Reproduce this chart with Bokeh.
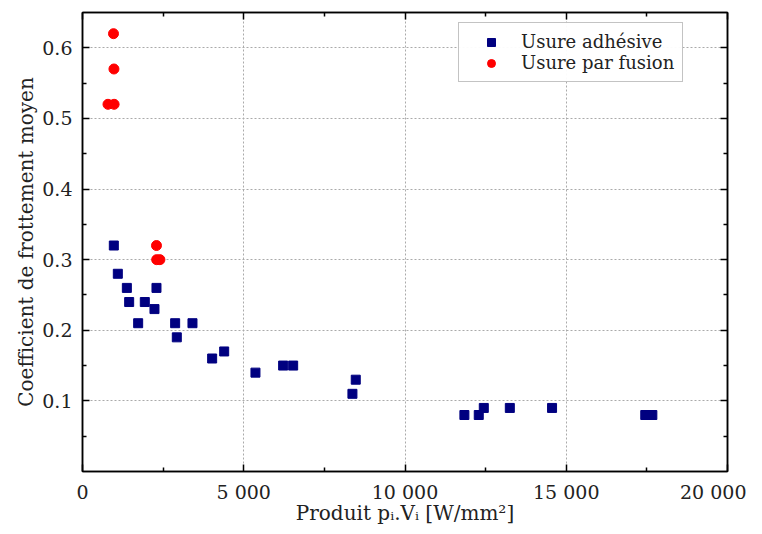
from bokeh.plotting import figure
from bokeh.models import FixedTicker, LinearAxis, Range1d, Legend, LegendItem
from bokeh.embed import file_html
from bokeh.resources import INLINE

# Data
adh_x = [971, 1095, 1375, 1447, 1932, 2294, 2232, 1726, 2873, 3410, 2924, 4020, 4393,
         5363, 6221, 6532, 8473, 8370, 11842, 12287, 12443, 13250, 14560, 17450, 17670]
adh_y = [0.32, 0.28, 0.26, 0.24, 0.24, 0.26, 0.23, 0.21, 0.21, 0.21, 0.19, 0.16, 0.17,
         0.14, 0.15, 0.15, 0.13, 0.11, 0.08, 0.08, 0.09, 0.09, 0.09, 0.08, 0.08]
fus_x = [961, 975, 790, 980, 2294, 2300, 2400]
fus_y = [0.62, 0.57, 0.52, 0.52, 0.32, 0.30, 0.30]

x_ticks = [0, 5000, 10000, 15000, 20000]
x_labels = ["0", "5 000", "10 000", "15 000", "20 000"]
x_minor = [2500, 7500, 12500, 17500]
y_ticks = [0.1, 0.2, 0.3, 0.4, 0.5, 0.6]
y_labels = ["0.1", "0.2", "0.3", "0.4", "0.5", "0.6"]
y_minor = [0.05, 0.15, 0.25, 0.35, 0.45, 0.55]

FONT = "DejaVu Serif"

p = figure(width=746, height=530, output_backend="svg", toolbar_location=None,
           x_range=Range1d(0, 20000), y_range=Range1d(0, 0.65),
           min_border_left=82, min_border_top=12, min_border_right=19, min_border_bottom=59)
p.outline_line_color = "black"
p.outline_line_width = 1.5

r1 = p.scatter(adh_x, adh_y, marker="square", size=9, fill_color="#000080", line_color="#000080")
r2 = p.scatter(fus_x, fus_y, marker="circle", size=10, fill_color="#ff0000", line_color="#ff0000")

xt = FixedTicker(ticks=x_ticks, minor_ticks=x_minor)
yt = FixedTicker(ticks=y_ticks, minor_ticks=y_minor)

def style(ax, labels=True):
    ax.axis_line_color = "black"
    ax.axis_line_width = 1.5
    ax.major_tick_in = 7
    ax.major_tick_out = 0
    ax.minor_tick_in = 4
    ax.minor_tick_out = 0
    ax.major_tick_line_width = 1.5
    ax.minor_tick_line_width = 1.5
    ax.major_label_text_font = FONT
    ax.major_label_text_font_size = "19px"
    ax.major_label_text_color = "#222222"
    ax.axis_label_text_font = FONT
    ax.axis_label_text_font_size = "20px"
    ax.axis_label_text_font_style = "normal"
    ax.axis_label_text_color = "#222222"
    if not labels:
        ax.major_label_text_font_size = "0px"
        ax.major_label_text_alpha = 0

p.xaxis.ticker = xt
p.yaxis.ticker = yt
p.xaxis.major_label_overrides = dict(zip(x_ticks, x_labels))
p.yaxis.major_label_overrides = dict(zip(y_ticks, y_labels))
p.xaxis.axis_label = "Produit pᵢ.Vᵢ [W/mm²]"
p.yaxis.axis_label = "Coefficient de frottement moyen"
style(p.xaxis[0])
style(p.yaxis[0])
p.xaxis.major_label_standoff = 9
p.xaxis.axis_label_standoff = -5
p.yaxis.major_label_standoff = 10
p.yaxis.axis_label_standoff = 1

top = LinearAxis(ticker=FixedTicker(ticks=x_ticks, minor_ticks=x_minor))
right = LinearAxis(ticker=FixedTicker(ticks=y_ticks, minor_ticks=y_minor))
for ax in (top, right):
    style(ax, labels=False)
    ax.major_label_standoff = 0
p.add_layout(top, "above")
p.add_layout(right, "right")

p.xgrid.ticker = FixedTicker(ticks=x_ticks)
p.ygrid.ticker = FixedTicker(ticks=y_ticks)
for g in (p.xgrid[0], p.ygrid[0]):
    g.grid_line_color = "#aaaaaa"
    g.grid_line_dash = "2 2"
    g.grid_line_width = 1

legend = Legend(items=[LegendItem(label="Usure adhésive", renderers=[r1]),
                       LegendItem(label="Usure par fusion", renderers=[r2])],
                location=(376, 389))
legend.label_text_font = FONT
legend.label_text_font_size = "18px"
legend.label_text_color = "#222222"
legend.border_line_color = "#888888"
legend.border_line_width = 1.5
legend.margin = 0
legend.padding = 8
legend.spacing = 0
legend.glyph_width = 48
legend.label_standoff = 6
legend.label_height = 20
p.add_layout(legend)

open("out.html", "w").write(file_html(p, INLINE))
